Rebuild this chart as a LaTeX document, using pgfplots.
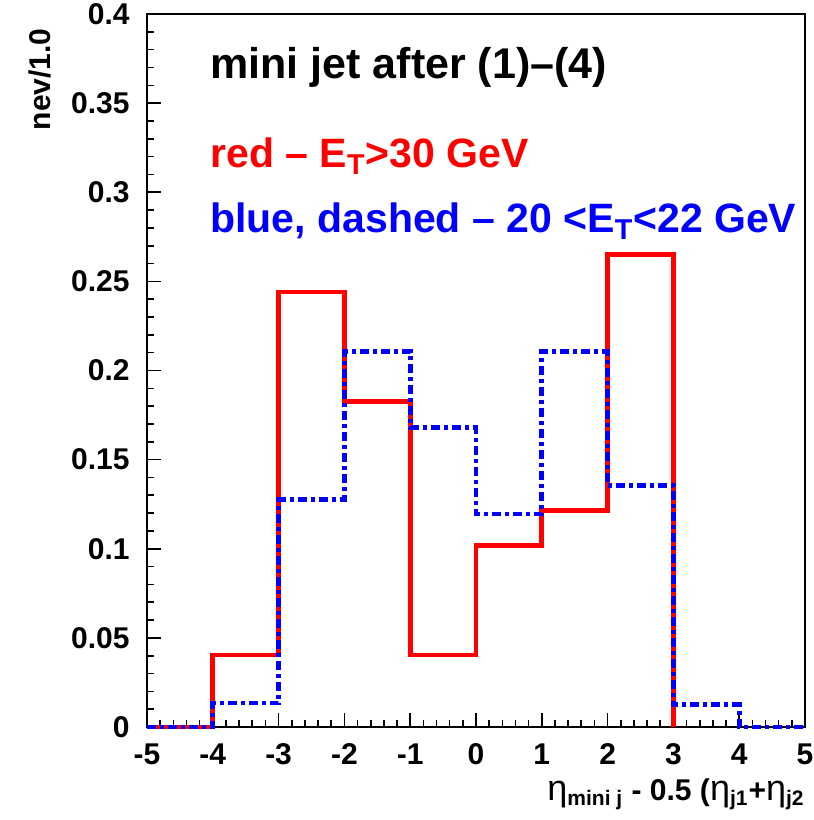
\documentclass[border=0pt]{standalone}
\usepackage{fontspec}
\setmainfont{Liberation Sans}
\usepackage{pgfplots}
\pgfplotsset{compat=1.18}
\begin{document}
\begin{tikzpicture}
\useasboundingbox (-73.5pt,-46.5pt) rectangle (333.5pt,363.5pt);
\begin{axis}[
  scale only axis, width=329pt, height=356.5pt,
  xmin=-5, xmax=5, ymin=0, ymax=0.4,
  axis line style={line width=1pt},
  xtick={-5,-4,-3,-2,-1,0,1,2,3,4,5},
  xticklabels={-5,-4,-3,-2,-1,0,1,2,3,4,5},
  ytick={0,0.05,0.1,0.15,0.2,0.25,0.3,0.35,0.4},
  yticklabels={0,0.05,0.1,0.15,0.2,0.25,0.3,0.35,0.4},
  minor x tick num=4, minor y tick num=4,
  tick align=inside,
  xtick pos=lower, ytick pos=left,
  major tick length=7pt, minor tick length=3.5pt,
  tick style={black, line width=0.8pt},
  ticklabel style={font=\fontsize{15}{18}\selectfont\bfseries, inner sep=0pt},
  xticklabel style={anchor=north, yshift=-8pt},
  yticklabel style={anchor=east, xshift=-8.5pt},
  clip=false,
]
\addplot[const plot, red, line width=2.4pt] coordinates {
(-5,0) (-4,0.0404) (-3,0.244) (-2,0.1825) (-1,0.0404) (0,0.102) (1,0.1215) (2,0.265) (3,0)};
\addplot[const plot, blue, line width=2.4pt, dash pattern=on 4.5pt off 2pt on 2pt off 2pt] coordinates {
(-5,0) (-4,0.0135) (-3,0.1275) (-2,0.2105) (-1,0.168) (0,0.1195) (1,0.2105) (2,0.1355) (3,0.0125) (4,0) (5,0)};
\end{axis}
\node[anchor=base west, inner sep=0, font=\fontsize{21.5}{26}\selectfont\bfseries] at (31.5pt,324pt) {mini jet after (1)–(4)};
\node[anchor=base west, inner sep=0, red, font=\fontsize{20.5}{25}\selectfont\bfseries] at (31.5pt,279.5pt) {red – E\textsubscript{T}>30 GeV};
\node[anchor=base west, inner sep=0, blue, font=\fontsize{20.5}{25}\selectfont\bfseries] at (31.5pt,247pt) {blue, dashed – 20 <E\textsubscript{T}<22 GeV};
\node[rotate=90, anchor=east, inner sep=0, font=\fontsize{15}{18}\selectfont\bfseries] at (-53.5pt,349.5pt) {nev/1.0};
\node[anchor=base east, inner sep=0, font=\fontsize{15}{18}\selectfont\bfseries] at (329pt,-36.5pt) {{\mdseries\fontsize{18}{20}\selectfont η}\textsubscript{mini j} - 0.5 ({\mdseries\fontsize{18}{20}\selectfont η}\textsubscript{j1}+{\mdseries\fontsize{18}{20}\selectfont η}\textsubscript{j2}};
\end{tikzpicture}
\end{document}
